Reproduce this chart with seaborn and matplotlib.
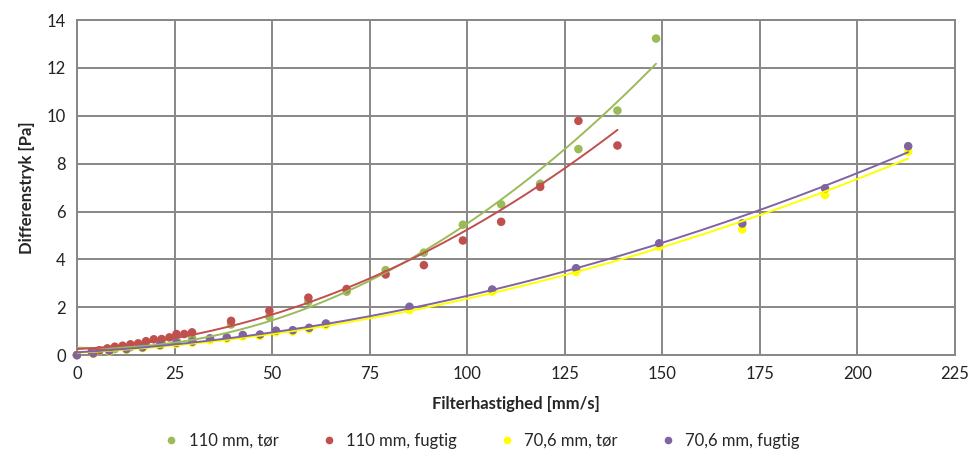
import numpy as np
import pandas as pd
import matplotlib
matplotlib.use("Agg")
import matplotlib.pyplot as plt
import seaborn as sns

# Data
x_110_dry = [0, 5.7, 9.7, 13.7, 17.7, 21.7, 25.5, 29.5, 39.5, 49.3, 59.3, 69.1,
             79.1, 88.9, 98.9, 108.7, 118.7, 128.5, 138.5, 148.4]
y_110_dry = [0.0, 0.15, 0.25, 0.33, 0.42, 0.52, 0.62, 0.72, 1.28, 1.6, 2.23, 2.65,
             3.55, 4.28, 5.45, 6.3, 7.16, 8.61, 10.22, 13.23]

x_110_wet = [0, 3.8, 5.7, 7.8, 9.7, 11.7, 13.7, 15.7, 17.7, 19.7, 21.7, 23.7, 25.5,
             27.5, 29.5, 39.5, 49.3, 59.3, 69.1, 79.1, 88.9, 98.9, 108.7, 118.7,
             128.5, 138.5]
y_110_wet = [0.0, 0.14, 0.2, 0.28, 0.35, 0.39, 0.45, 0.49, 0.58, 0.66, 0.67, 0.74,
             0.88, 0.88, 0.95, 1.43, 1.85, 2.4, 2.76, 3.37, 3.76, 4.79, 5.57, 7.03,
             9.79, 8.76]

x_70_dry = [0, 4.2, 8.3, 12.7, 16.8, 21.3, 25.5, 29.6, 34.1, 38.4, 42.5, 46.9, 51,
            55.3, 59.5, 63.8, 85.2, 106.4, 127.9, 149.2, 170.5, 191.7, 213]
y_70_dry = [0.0, 0.05, 0.15, 0.22, 0.29, 0.38, 0.46, 0.52, 0.62, 0.68, 0.78, 0.8,
            0.95, 0.98, 1.08, 1.25, 1.88, 2.65, 3.47, 4.53, 5.25, 6.69, 8.5]

x_70_wet = x_70_dry
y_70_wet = [0.0, 0.07, 0.18, 0.25, 0.32, 0.42, 0.51, 0.56, 0.7, 0.74, 0.84, 0.86,
            1.02, 1.04, 1.14, 1.32, 2.02, 2.74, 3.63, 4.67, 5.5, 6.97, 8.73]

labels = ["110 mm, tør", "110 mm, fugtig", "70,6 mm, tør", "70,6 mm, fugtig"]
colors = ["#9BBB59", "#C0504D", "#FFFF00", "#8064A2"]
series = [(x_110_dry, y_110_dry), (x_110_wet, y_110_wet),
          (x_70_dry, y_70_dry), (x_70_wet, y_70_wet)]

sns.set_theme(style="white")
plt.rcParams['font.family'] = ['Lato', 'DejaVu Sans']

df = pd.concat([pd.DataFrame({"x": xs, "y": ys, "serie": lab})
                for (xs, ys), lab in zip(series, labels)], ignore_index=True)

fig = plt.figure(figsize=(9.74, 4.57), dpi=100)
ax = fig.add_axes([0.079, 0.223, 0.9015, 0.733])

sns.scatterplot(data=df, x="x", y="y", hue="serie", hue_order=labels,
                palette=colors, s=38, linewidth=0, ax=ax, legend=False,
                zorder=3, clip_on=False)

# 2nd order polynomial trendlines (like Excel)
for (xs, ys), c in zip(series, colors):
    coef = np.polyfit(xs, ys, 2)
    xx = np.linspace(0, max(xs), 200)
    sns.lineplot(x=xx, y=np.polyval(coef, xx), color=c, linewidth=1.4,
                 ax=ax, zorder=4)

ax.set_xlim(0, 225)
ax.set_ylim(0, 14)
ax.set_xticks(np.arange(0, 226, 25))
ax.set_yticks(np.arange(0, 15, 2))
ax.grid(True, color="#878787", linewidth=1.4)
ax.set_axisbelow(True)
for sp in ax.spines.values():
    sp.set_color("#878787")
    sp.set_linewidth(1.4)
ax.tick_params(axis="both", labelsize=12, length=0, pad=8, colors="#222222")
ax.set_xlabel("Filterhastighed [mm/s]", fontsize=12, fontweight="bold", labelpad=10)
ax.set_ylabel("Differenstryk [Pa]", fontsize=12, fontweight="bold", labelpad=8)

handles = [plt.Line2D([], [], marker="o", linestyle="", color=c, markersize=4.5)
           for c in colors]
fig.legend(handles, labels, loc="center", bbox_to_anchor=(0.49, 0.035), ncol=4,
           frameon=False, fontsize=12, handletextpad=0.05, columnspacing=2.0)

fig.savefig("out.png", dpi=100)
